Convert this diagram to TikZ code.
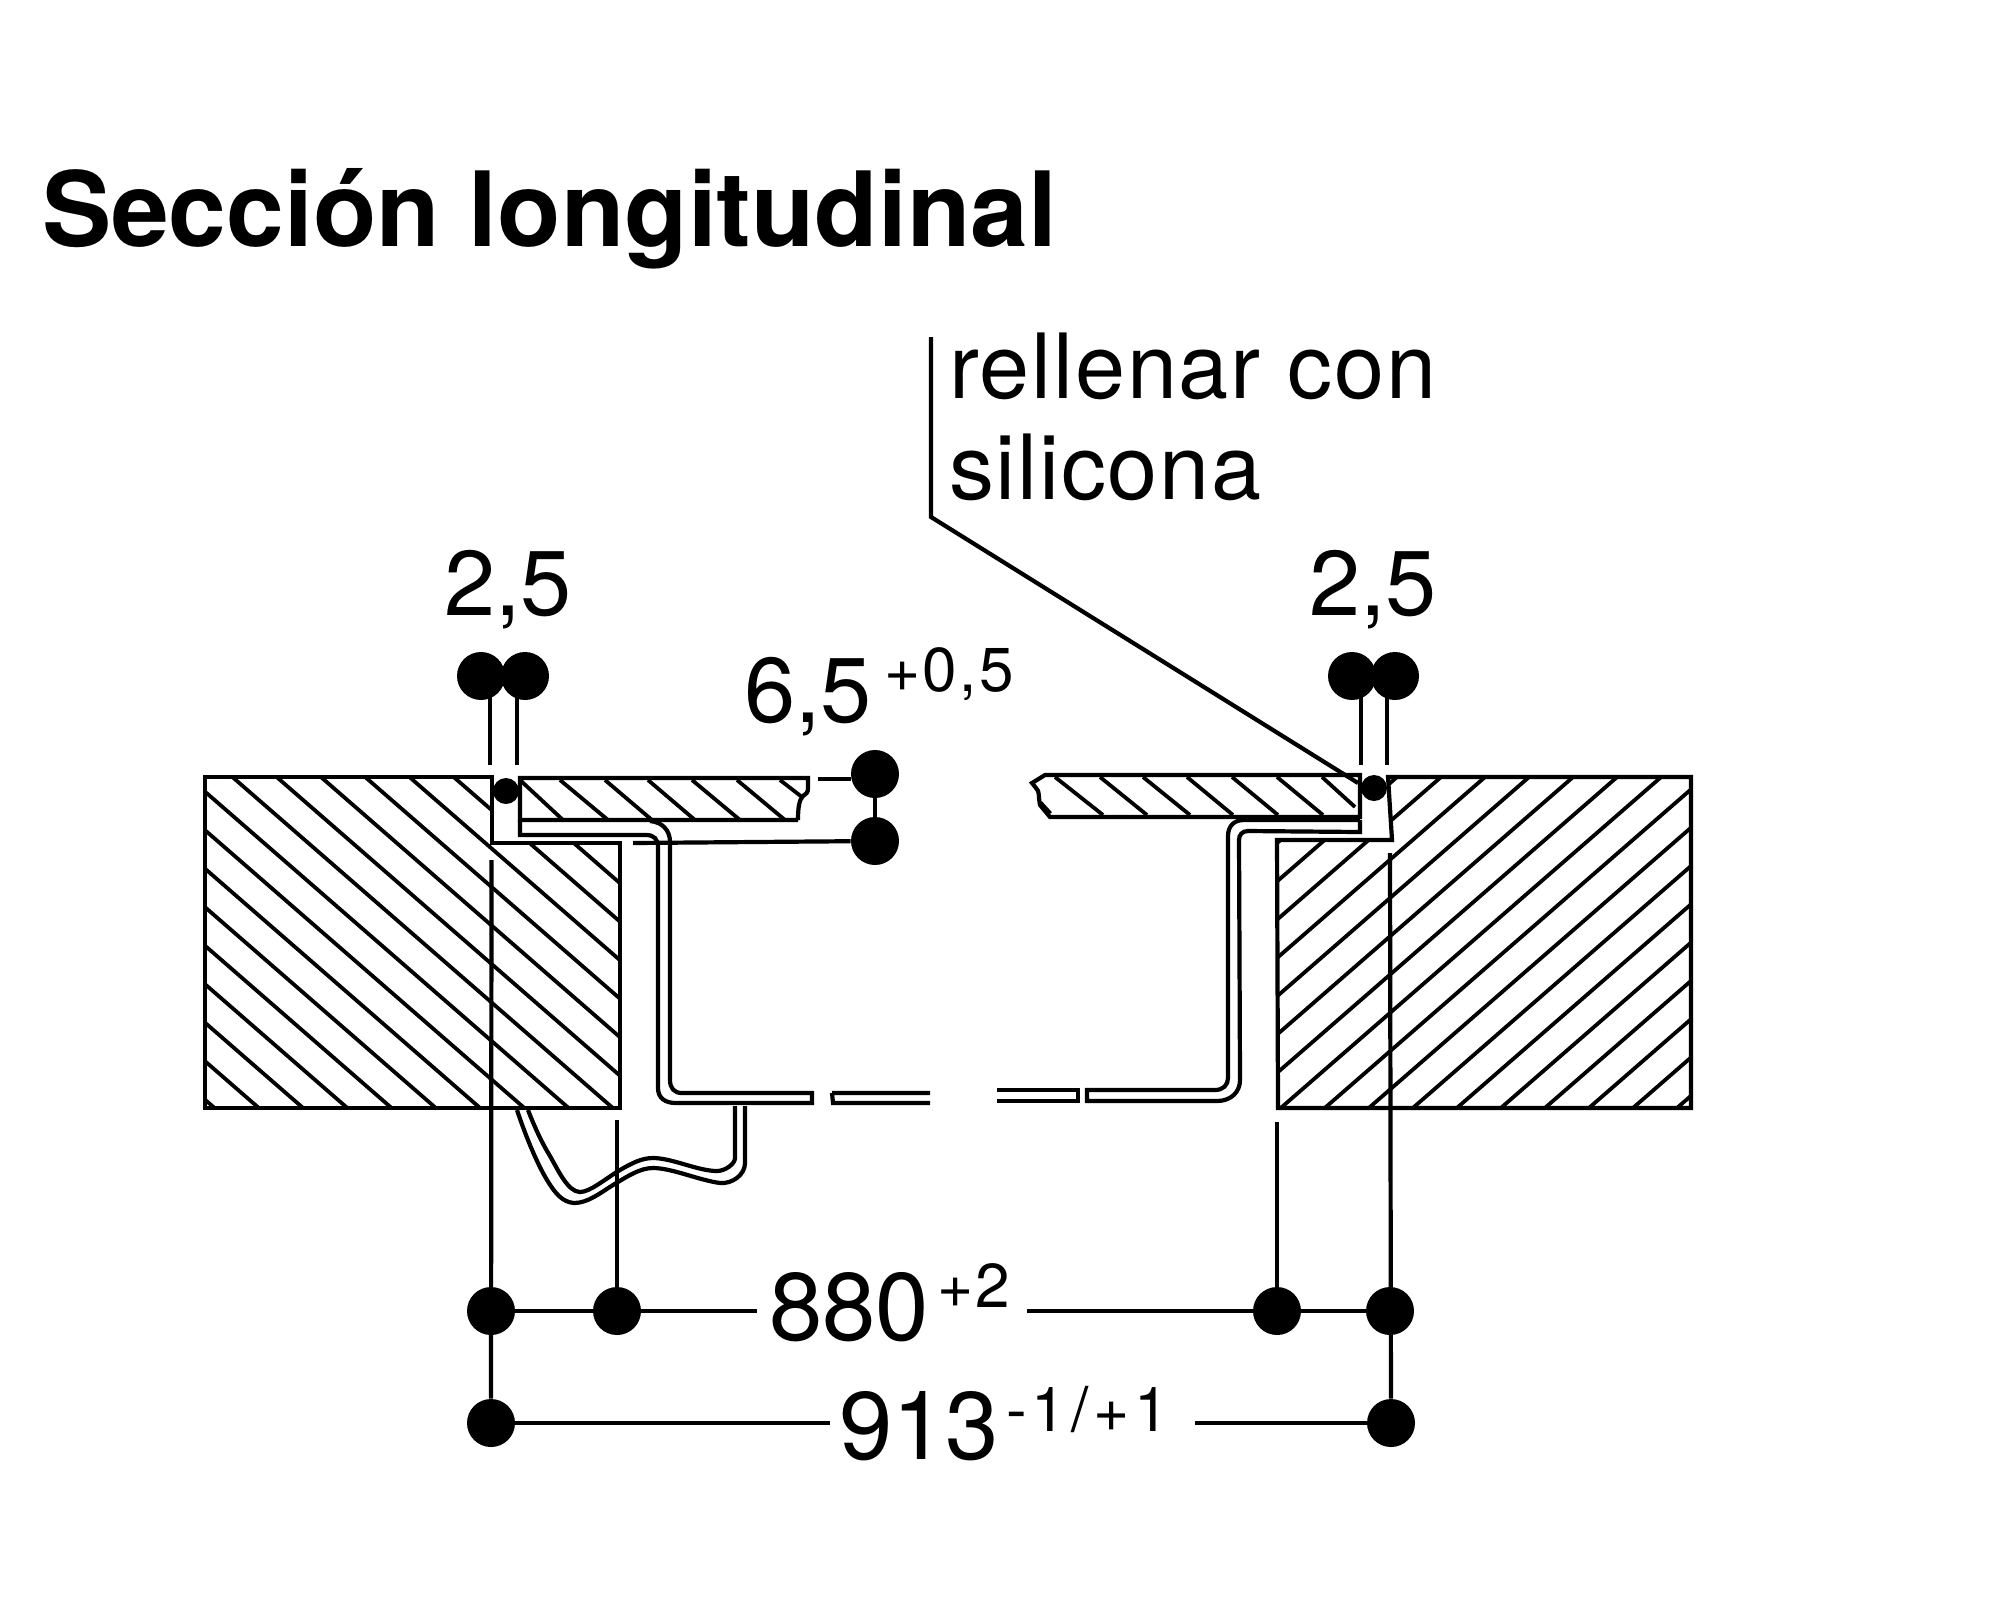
\documentclass[tikz,border=0pt]{standalone}
\usepackage{fontspec}
\setmainfont{TeX Gyre Heros}
\tikzset{
  x=0.5pt,y=-0.5pt,
  line/.style={line width=2.1pt,line cap=butt,line join=miter},
  hatchline/.style={line width=1.9pt},
  bigdot/.style={circle,fill=black,draw=none,inner sep=0pt,minimum size=24pt},
  smalldot/.style={circle,fill=black,draw=none,inner sep=0pt,minimum size=13pt},
  txt/.style={anchor=base west,inner sep=0pt,outer sep=0pt,text=black},
  dimtxt/.style={txt,font=\fontsize{46}{46}\selectfont},
  bigtxt/.style={txt,font=\fontsize{48}{48}\selectfont},
  suptxt/.style={txt,font=\fontsize{31}{31}\selectfont\addfontfeature{LetterSpace=4}},
  suptxtw/.style={txt,font=\fontsize{31}{31}\selectfont\addfontfeature{LetterSpace=8}},
  lbltxt/.style={txt,font=\fontsize{45}{45}\selectfont\addfontfeature{LetterSpace=2}},
  titletxt/.style={txt,font=\fontsize{51.9}{52}\selectfont\bfseries},
}
\begin{document}
\begin{tikzpicture}
\useasboundingbox (0,0) rectangle (2000,1618);
% left block
\begin{scope}
  \clip (205,777) -- (492,777) -- (492,843) -- (620,843) -- (620,1108) -- (205,1108) -- cycle;
  \foreach \k in {-1,...,16} {
    \pgfmathsetmacro{\cc}{343.8+38.5*\k}
    \draw[hatchline] (0,{\cc}) -- (1000,{\cc+870});
  }
\end{scope}
\draw[line] (205,777) -- (492,777) -- (492,843) -- (620,843) -- (620,1108) -- (205,1108) -- cycle;
% right block
\begin{scope}
  \clip (1388,777) -- (1691,777) -- (1691,1108) -- (1278,1108) -- (1277,840) -- (1392,840) -- cycle;
  \foreach \k in {-1,...,15} {
    \pgfmathsetmacro{\cc}{1992.4+38.3*\k}
    \draw[hatchline] (1200,{\cc-1044}) -- (1800,{\cc-1566});
  }
\end{scope}
\draw[line] (1388,777) -- (1691,777) -- (1691,1108) -- (1278,1108) -- (1277,840) -- (1392,840) -- cycle;
% left plate
\foreach \a/\b/\p/\q in {520/780/563/820,560/780/608/820,605/780/652/820,648/780/695/820,692/780/740/820,737/780/785/820,780/780/802/797}
  \draw[hatchline] (\a,\b) -- (\p,\q);
\draw[line] (798,820) -- (520,820) -- (520,778) -- (808,778) -- (808,788) .. controls (808,793) and (806,794) .. (803,796) .. controls (799,800) and (798,808) .. (798,820);
% right plate
\foreach \a/\b/\p/\q in {1055/777/1103/815,1100/777/1147/815,1143/777/1190/815,1187/777/1233/815,1232/777/1278/815,1277/777/1323/815,1322/777/1355/807}
  \draw[hatchline] (\a,\b) -- (\p,\q);
\draw[line] (1360,817) -- (1050,817) -- (1040,805) .. controls (1038,795) and (1040,792) .. (1036,788) -- (1032,783) -- (1045,775) -- (1360,775) -- cycle;
\draw[line,line width=1.2pt] (1041,802) -- (1051,813);
% left sheet
\draw[line] (520,820) -- (520,835) -- (646,835) .. controls (654,835) and (658,839) .. (658,847) -- (658,1088) .. controls (658,1098) and (665,1103) .. (676,1103) -- (812,1103) -- (812,1093) -- (682,1093) .. controls (674,1093) and (670,1088) .. (670,1080) -- (670,842) .. controls (670,830) and (662,822) .. (650,821);
\draw[line] (832,1093) -- (833,1103) -- (930,1103) (832,1093) -- (930,1093);
\draw[line] (997,1090) -- (1078,1090) -- (1078,1101) -- (997,1101);
% right sheet
\draw[line] (1360,820) -- (1244,820) .. controls (1234,820) and (1228,826) .. (1228,836) -- (1228,1078) .. controls (1228,1085) and (1223,1090) .. (1215,1090) -- (1087,1090) -- (1087,1101) -- (1217,1101) .. controls (1231,1101) and (1240,1092) .. (1240,1080) -- (1239,840) .. controls (1239,835) and (1242,831) .. (1248,831) -- (1360,832) -- (1360,820);
% gasket
\draw[line] (517,1110) .. controls (527,1140) and (538,1165) .. (547,1180) .. controls (555,1193) and (562,1202) .. (574,1203) .. controls (588,1203) and (600,1193) .. (613,1185) .. controls (628,1176) and (640,1168) .. (653,1168) .. controls (672,1168) and (698,1180) .. (720,1183) .. controls (732,1184) and (745,1175) .. (745,1163) -- (745,1106);
\draw[line] (528,1110) .. controls (535,1128) and (542,1143) .. (550,1156) .. controls (558,1170) and (568,1192) .. (580,1192) .. controls (590,1192) and (605,1179) .. (620,1170) .. controls (632,1163) and (642,1158) .. (653,1158) .. controls (672,1158) and (698,1171) .. (717,1171) .. controls (725,1171) and (735,1164) .. (735,1158) -- (735,1106);
% dots
\node[bigdot] (tl1) at (481,676) {};
\node[bigdot] (tl2) at (525,676) {};
\node[bigdot] (tr1) at (1352,676) {};
\node[bigdot] (tr2) at (1395,676) {};
\node[smalldot] (sl) at (506,791) {};
\node[smalldot] (sr) at (1374,788) {};
\node[bigdot] (pa) at (875,774) {};
\node[bigdot] (pb) at (875,841) {};
\node[bigdot] (a1) at (491,1311) {};
\node[bigdot] (a2) at (617,1311) {};
\node[bigdot] (a3) at (1277,1311) {};
\node[bigdot] (a4) at (1390,1311) {};
\node[bigdot] (b1) at (491,1423) {};
\node[bigdot] (b2) at (1391,1423) {};
% free ends
\coordinate (tl1e) at (490,765);
\coordinate (tl2e) at (517,765);
\coordinate (tr1e) at (1361,765);
\coordinate (tr2e) at (1387,765);
\coordinate (vl) at (491.5,860);
\coordinate (vr) at (1390,853);
\coordinate (v2) at (617,1120);
\coordinate (v3) at (1277,1122);
\coordinate (pe) at (818,779);
\coordinate (pf) at (633,843);
\coordinate (h1) at (757,1311);
\coordinate (h2) at (1027,1311);
\coordinate (h3) at (830,1423);
\coordinate (h4) at (1195,1423);
\coordinate (l1) at (931,337);
\coordinate (l2) at (931,517);
\coordinate (l3) at (1358,783);
% connectors
\draw[line] (490,690) -- (tl1e);
\draw[line] (517,690) -- (tl2e);
\draw[line] (1361,690) -- (tr1e);
\draw[line] (1387,690) -- (tr2e);
\draw[line] (pa) -- (pb);
\draw[line] (pe) -- (851,779);
\draw[line] (pf) -- (pb);
\draw[line] (vl) -- (b1);
\draw[line] (vr) -- (b2);
\draw[line] (v2) -- (a2);
\draw[line] (v3) -- (a3);
\draw[line] (a1) -- (h1);
\draw[line] (h2) -- (a4);
\draw[line] (b1) -- (h3);
\draw[line] (h4) -- (b2);
\draw[line] (l1) -- (l2) -- (l3);
% text
\node[titletxt] (title) at (42,246) {Sección longitudinal};
\node[lbltxt] (r1) at (949,398) {rellenar con};
\node[lbltxt] (r2) at (949,499) {silicona};
\node[dimtxt] (d1) at (444,615) {2,5};
\node[dimtxt] (d2) at (1309,615) {2,5};
\node[dimtxt] (d3) at (744,722) {6,5};
\node[suptxt] (d3s) at (884,691) {+0,5};
\node[bigtxt] (d4) at (769,1340) {880};
\node[suptxt] (d4s) at (937,1307) {+2};
\node[bigtxt] (d5) at (839,1459) {913};
\node[suptxtw] (d5s) at (1006,1431) {-1/+1};
\end{tikzpicture}
\end{document}
